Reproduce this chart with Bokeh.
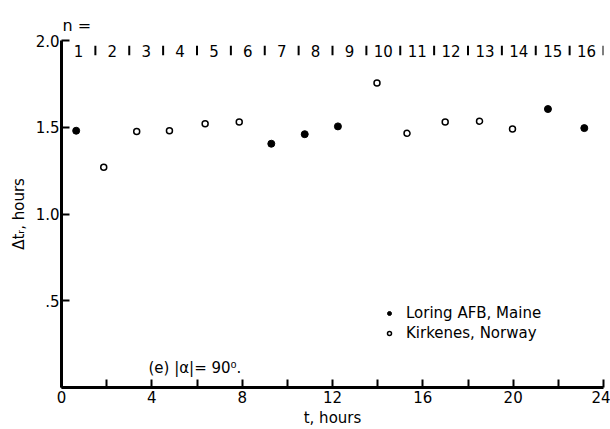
from bokeh.plotting import figure
from bokeh.models import FixedTicker, Label, Legend, LegendItem, Range1d, ColumnDataSource
from bokeh.embed import file_html
from bokeh.resources import INLINE

# ---- data ----
t_loring = [0.65, 9.29, 10.77, 12.24, 21.54, 23.15]
dt_loring = [1.48, 1.405, 1.46, 1.505, 1.605, 1.495]
t_kirkenes = [1.87, 3.33, 4.78, 6.36, 7.87, 13.97, 15.30, 16.99, 18.51, 19.97]
dt_kirkenes = [1.27, 1.475, 1.48, 1.52, 1.53, 1.755, 1.465, 1.53, 1.535, 1.49]
n_labels = [str(i) for i in range(1, 17)]
n_interval = 1.5  # hours per n interval
x_ticks = [0, 2, 4, 6, 8, 10, 12, 14, 16, 18, 20, 22, 24]
x_tick_labels = ["0", "", "4", "", "8", "", "12", "", "16", "", "20", "", "24"]
y_ticks = [0, 0.5, 1.0, 1.5, 2.0]
y_tick_labels = ["", ".5", "1.0", "1.5", "2.0"]

FONT = "DejaVu Sans"

p = figure(width=610, height=429, output_backend="svg", toolbar_location=None,
           x_range=Range1d(0, 24), y_range=Range1d(0, 2.0),
           min_border_left=61, min_border_right=7, min_border_top=40, min_border_bottom=42)
p.outline_line_color = None
p.xgrid.visible = False
p.ygrid.visible = False

p.title.text = "n ="
p.title.align = "left"
p.title.text_font = FONT
p.title.text_font_size = "16px"
p.title.text_font_style = "normal"
p.title.text_color = "black"
p.title.offset = 1
p.title.standoff = 12

for ax in (p.xaxis[0], p.yaxis[0]):
    ax.axis_line_width = 3
    ax.axis_line_color = "black"
    ax.major_tick_in = 8
    ax.major_tick_out = 0
    ax.major_tick_line_width = 2
    ax.major_tick_line_color = "black"
    ax.minor_tick_line_color = None
    ax.major_label_text_font = FONT
    ax.major_label_text_font_size = "15px"
    ax.major_label_text_color = "black"
    ax.axis_label_text_font = FONT
    ax.axis_label_text_font_size = "15px"
    ax.axis_label_text_font_style = "normal"
    ax.axis_label_text_color = "black"

p.xaxis.ticker = FixedTicker(ticks=x_ticks)
p.xaxis.major_label_overrides = {t: l for t, l in zip(x_ticks, x_tick_labels)}
p.xaxis.major_label_standoff = 3
p.xaxis.axis_label = "t, hours"
p.xaxis.axis_label_standoff = 3

p.yaxis.ticker = FixedTicker(ticks=y_ticks)
p.yaxis.major_label_overrides = {t: l for t, l in zip(y_ticks, y_tick_labels)}
p.yaxis.major_label_standoff = 2
p.yaxis.axis_label = "\u0394t\u1d63, hours"
p.yaxis.axis_label_standoff = 5

# n interval labels and separators along the top
n_idx = list(range(len(n_labels)))
n_src = ColumnDataSource(dict(
    x=[(i + 0.5) * n_interval for i in n_idx],
    y=[1.94] * len(n_idx),
    text=n_labels,
    sx=[(i + 1) * n_interval for i in n_idx],
    y0=[1.915] * len(n_idx),
    y1=[1.97] * len(n_idx),
))
p.text(x="x", y="y", text="text", source=n_src, text_align="center", text_baseline="middle",
       text_font_size="15px", text_color="black", text_font={"value": FONT})
p.segment(x0="sx", y0="y0", x1="sx", y1="y1", source=n_src, line_width=2, line_color="black")

r_loring = p.scatter(t_loring, dt_loring, marker="circle", size=7,
                     fill_color="black", line_color="black")
r_kirk = p.scatter(t_kirkenes, dt_kirkenes, marker="circle", size=6,
                   fill_color="white", line_color="black", line_width=1.5)

legend = Legend(items=[LegendItem(label="Loring AFB, Maine", renderers=[r_loring]),
                       LegendItem(label="Kirkenes, Norway", renderers=[r_kirk])],
                location=(323, 44), padding=0, margin=0, spacing=0,
                glyph_width=10, glyph_height=20, label_height=20, label_standoff=12,
                background_fill_alpha=0, border_line_color=None,
                label_text_font=FONT, label_text_font_size="15px",
                label_text_color="black")
p.add_layout(legend)

p.add_layout(Label(x=3.85, y=0.114, text="(e) |\u03b1|= 90\u2070.", text_baseline="middle",
                   text_font=FONT, text_font_size="15px", text_color="black"))

open("out.html", "w").write(file_html(p, INLINE))
